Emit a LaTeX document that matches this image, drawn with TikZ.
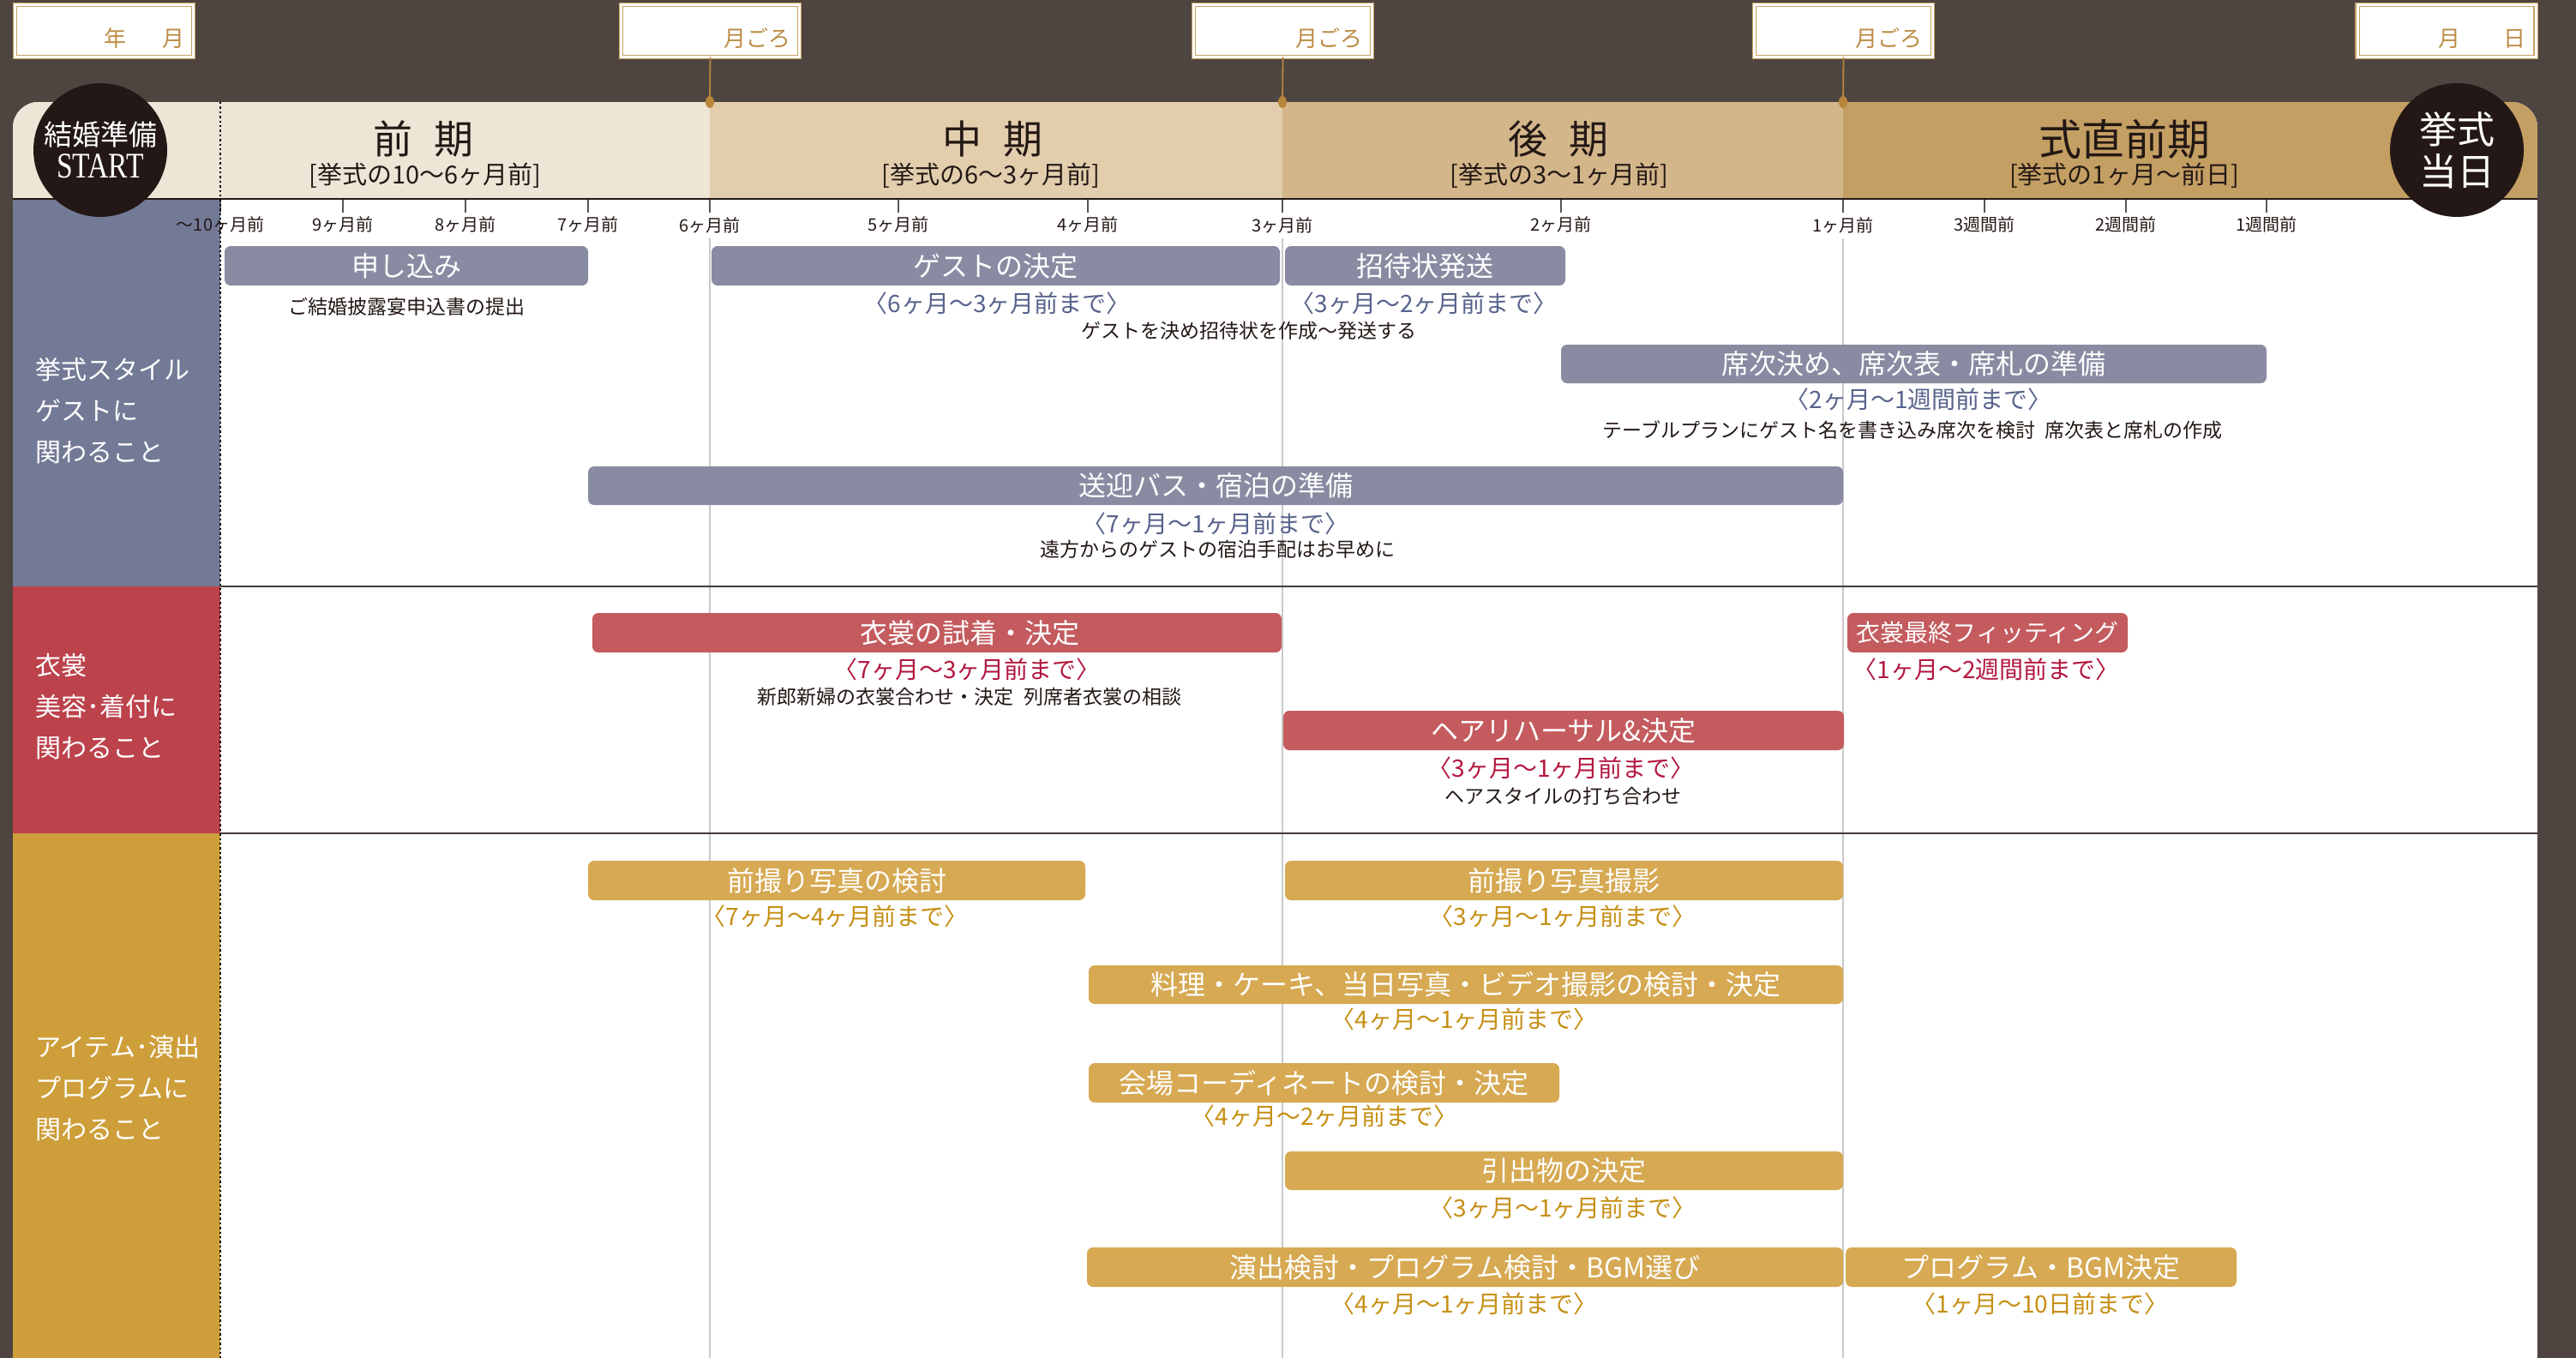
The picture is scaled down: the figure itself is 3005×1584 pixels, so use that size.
\documentclass[tikz,border=0pt]{standalone}
\usepackage{fontspec}
\newfontfamily\jp{Noto Sans CJK JP}
\newfontfamily\startfont[FakeStretch=0.8]{Liberation Serif}
\newcommand{\FS}[2]{\fontsize{#1}{#2}\selectfont}
\definecolor{bgbrown}{HTML}{4F4540}
\definecolor{boxgold}{HTML}{C8A063}
\definecolor{textgold}{HTML}{BC8C45}
\definecolor{linegold}{HTML}{B8863B}
\definecolor{cream}{HTML}{EFE5D6}
\definecolor{midph}{HTML}{E2CEAD}
\definecolor{lateph}{HTML}{D3B68A}
\definecolor{finalph}{HTML}{C49F63}
\definecolor{ink}{HTML}{231815}
\definecolor{slatecol}{HTML}{737A96}
\definecolor{slatebar}{HTML}{898BA2}
\definecolor{slatetext}{HTML}{57638C}
\definecolor{redcol}{HTML}{BC424C}
\definecolor{redbar}{HTML}{C45B5E}
\definecolor{redtext}{HTML}{B3173F}
\definecolor{goldcol}{HTML}{CE9E3A}
\definecolor{goldbar}{HTML}{D6A952}
\definecolor{goldtext}{HTML}{C68F14}
\definecolor{gridgray}{HTML}{C9C9C9}
\definecolor{tickgray}{HTML}{555555}
\begin{document}
\begin{tikzpicture}[x=1pt,y=-1pt]
\tikzset{
  every node/.style={inner sep=0pt, outer sep=0pt, font=\jp},
  topbox/.style={draw=boxgold, double=white, double distance=3pt, line width=1.3pt, fill=white, minimum width=208, minimum height=61},
  boxtxt/.style={text=textgold, font=\jp\FS{26}{26}, anchor=east},
  phasetitle/.style={text=ink, font=\jp\FS{46}{46}},
  phasesub/.style={text=ink, font=\jp\FS{29}{29}},
  ticklbl/.style={text=ink, font=\jp\FS{20}{20}},
  catlabel/.style={text=white, font=\jp\FS{30}{48}, align=left, anchor=west},
  taskbar/.style={rounded corners=7pt, minimum height=46, text=white, font=\jp\FS{32}{32}},
  barS/.style={taskbar, fill=slatebar},
  barR/.style={taskbar, fill=redbar},
  barG/.style={taskbar, fill=goldbar},
  rngS/.style={text=slatetext, font=\jp\FS{28}{28}},
  rngR/.style={text=redtext, font=\jp\FS{28}{28}},
  rngG/.style={text=goldtext, font=\jp\FS{28}{28}},
  desctext/.style={text=ink, font=\jp\FS{23}{23}},
  gridline/.style={draw=gridgray, line width=1.5pt},
  tickline/.style={draw=tickgray, line width=1.2pt},
  sepline/.style={draw=ink!85, line width=2pt},
  pin/.style={draw=linegold, line width=1.8pt},
  bigcircle/.style={circle, fill=ink, minimum size=156, text=white, align=center}
}
\useasboundingbox (0,0) rectangle (3005,1584);
\fill[bgbrown] (0,0) rectangle (3005,1584);

% top date boxes
\node[topbox] (b1) at (121.5,36) {};
\node[topbox] (b2) at (828.5,36) {};
\node[topbox] (b3) at (1496.5,36) {};
\node[topbox] (b4) at (2150.5,36) {};
\node[topbox] (b5) at (2854,36) {};
\node[boxtxt] (b1t) at (216,45) {年\hspace{1.65em}月};
\node[boxtxt] (b2t) at (922,45) {月ごろ};
\node[boxtxt] (b3t) at (1589,45) {月ごろ};
\node[boxtxt] (b4t) at (2242,45) {月ごろ};
\node[boxtxt] (b5t) at (2946,45) {月\hspace{1.9em}日};

% panel
\begin{scope}
\clip[rounded corners=30pt] (15,119) rectangle (2960,1650);
\fill[white] (15,119) rectangle (2960,1650);
\fill[cream] (15,119) rectangle (828,232);
\fill[midph] (828,119) rectangle (1496,232);
\fill[lateph] (1496,119) rectangle (2150,232);
\fill[finalph] (2150,119) rectangle (2960,232);
\fill[slatecol] (15,232) rectangle (257,684);
\fill[redcol] (15,684) rectangle (257,972);
\fill[goldcol] (15,972) rectangle (257,1650);
\end{scope}

% pins from boxes
\coordinate (d2) at (828,119);
\coordinate (d3) at (1496,119);
\coordinate (d4) at (2150,119);
\draw[pin] (b2.south) -- (d2);
\draw[pin] (b3.south) -- (d3);
\draw[pin] (b4.south) -- (d4);
\fill[linegold] (d2) ellipse (5 and 7);
\fill[linegold] (d3) ellipse (5 and 7);
\fill[linegold] (d4) ellipse (5 and 7);

% grid lines
\foreach \gx in {828,1496,2150} \draw[gridline] (\gx,278) -- (\gx,1584);
% ticks
\foreach \gx in {257,400,543,686,828,1048,1269,1496,1821,2150,2315,2480,2644} \draw[tickline] (\gx,232) -- (\gx,248);
% header and section lines
\draw[draw=ink, line width=2pt] (15,232) -- (2960,232);
\draw[sepline] (257,684) -- (2960,684);
\draw[sepline] (257,972) -- (2960,972);
\draw[draw=black, line width=2.4pt, dash pattern=on 2.4pt off 3pt] (257,119) -- (257,1584);

% tick labels
\node[ticklbl] (l10) at (257,262) {〜10ヶ月前};
\node[ticklbl] (l9) at (400,262) {9ヶ月前};
\node[ticklbl] (l8) at (543,262) {8ヶ月前};
\node[ticklbl] (l7) at (686,262) {7ヶ月前};
\node[ticklbl] (l6) at (828,263) {6ヶ月前};
\node[ticklbl] (l5) at (1048,262) {5ヶ月前};
\node[ticklbl] (l4) at (1269,262) {4ヶ月前};
\node[ticklbl] (l3) at (1496,263) {3ヶ月前};
\node[ticklbl] (l2) at (1821,262) {2ヶ月前};
\node[ticklbl] (l1) at (2150,263) {1ヶ月前};
\node[ticklbl] (w3) at (2315,262) {3週間前};
\node[ticklbl] (w2) at (2480,262) {2週間前};
\node[ticklbl] (w1) at (2644,262) {1週間前};

% phase headings
\node[phasetitle] (p1) at (494,162) {前\hspace{0.55em}期};
\node[phasesub] (p1s) at (496,205) {[挙式の10〜6ヶ月前]};
\node[phasetitle] (p2) at (1158,162) {中\hspace{0.55em}期};
\node[phasesub] (p2s) at (1156,205) {[挙式の6〜3ヶ月前]};
\node[phasetitle] (p3) at (1818,162) {後\hspace{0.55em}期};
\node[phasesub] (p3s) at (1819,205) {[挙式の3〜1ヶ月前]};
\node[phasetitle, font=\jp\FS{50}{50}] (p4) at (2478,162) {式直前期};
\node[phasesub] (p4s) at (2478,205) {[挙式の1ヶ月〜前日]};

% circles
\node[bigcircle, font=\jp\FS{33}{38}] (startc) at (117,175) {結婚準備\\{\startfont\FS{42}{38}START}};
\node[bigcircle, font=\jp\FS{44}{49}] (dayc) at (2866,175) {挙式\\当日};

% category labels
\node[catlabel] (c1) at (41,479) {挙式スタイル\\ゲストに\\関わること};
\node[catlabel] (c2) at (41,824) {衣裳\\美容･着付に\\関わること};
\node[catlabel] (c3) at (41,1269) {アイテム･演出\\プログラムに\\関わること};

% slate tasks
\node[barS, minimum width=424] (t1) at (474,310) {申し込み};
\node[desctext] (d1) at (474,358) {ご結婚披露宴申込書の提出};
\node[barS, minimum width=663] (t2) at (1161.5,310) {ゲストの決定};
\node[rngS] (r2) at (1163,354) {〈6ヶ月〜3ヶ月前まで〉};
\node[barS, minimum width=327] (t3) at (1662.5,310) {招待状発送};
\node[rngS] (r3) at (1661,354) {〈3ヶ月〜2ヶ月前まで〉};
\node[desctext] (d23) at (1457,386) {ゲストを決め招待状を作成〜発送する};
\node[barS, minimum width=823, minimum height=45] (t4) at (2232.5,424.5) {席次決め、席次表・席札の準備};
\node[rngS] (r4) at (2238,466) {〈2ヶ月〜1週間前まで〉};
\node[desctext] (d4t) at (2231,502) {テーブルプランにゲスト名を書き込み席次を検討\hspace{0.5em}席次表と席札の作成};
\node[barS, minimum width=1464, minimum height=45] (t5) at (1418,566.5) {送迎バス・宿泊の準備};
\node[rngS] (r5) at (1418,611) {〈7ヶ月〜1ヶ月前まで〉};
\node[desctext] (d5) at (1420,641) {遠方からのゲストの宿泊手配はお早めに};

% red tasks
\node[barR, minimum width=804] (t6) at (1093,738) {};
\node[text=white, font=\jp\FS{32}{32}] (t6t) at (1131,738) {衣裳の試着・決定};
\node[rngR] (r6) at (1128,781) {〈7ヶ月〜3ヶ月前まで〉};
\node[desctext] (d6) at (1131,813) {新郎新婦の衣裳合わせ・決定\hspace{0.5em}列席者衣裳の相談};
\node[barR, minimum width=327, font=\jp\FS{28}{28}] (t8) at (2318.5,738) {衣裳最終フィッティング};
\node[rngR] (r8) at (2317,781) {〈1ヶ月〜2週間前まで〉};
\node[barR, minimum width=654] (t7) at (1824,852) {ヘアリハーサル\&決定};
\node[rngR] (r7) at (1821,896) {〈3ヶ月〜1ヶ月前まで〉};
\node[desctext] (d7) at (1823,929) {ヘアスタイルの打ち合わせ};

% gold tasks
\node[barG, minimum width=580] (t9) at (976,1027) {前撮り写真の検討};
\node[rngG] (r9) at (974,1069) {〈7ヶ月〜4ヶ月前まで〉};
\node[barG, minimum width=651] (t10) at (1824.5,1027) {前撮り写真撮影};
\node[rngG] (r10) at (1823,1069) {〈3ヶ月〜1ヶ月前まで〉};
\node[barG, minimum width=880, minimum height=45] (t11) at (1710,1148.5) {料理・ケーキ、当日写真・ビデオ撮影の検討・決定};
\node[rngG] (r11) at (1708,1189) {〈4ヶ月〜1ヶ月前まで〉};
\node[barG, minimum width=549] (t12) at (1544.5,1263) {会場コーディネートの検討・決定};
\node[rngG] (r12) at (1545,1302) {〈4ヶ月〜2ヶ月前まで〉};
\node[barG, minimum width=651, minimum height=45] (t13) at (1824.5,1365.5) {引出物の決定};
\node[rngG] (r13) at (1823,1409) {〈3ヶ月〜1ヶ月前まで〉};
\node[barG, minimum width=882] (t14) at (1709,1478) {演出検討・プログラム検討・BGM選び};
\node[rngG] (r14) at (1708,1521) {〈4ヶ月〜1ヶ月前まで〉};
\node[barG, minimum width=456] (t15) at (2381,1478) {プログラム・BGM決定};
\node[rngG] (r15) at (2380,1521) {〈1ヶ月〜10日前まで〉};
\end{tikzpicture}
\end{document}
